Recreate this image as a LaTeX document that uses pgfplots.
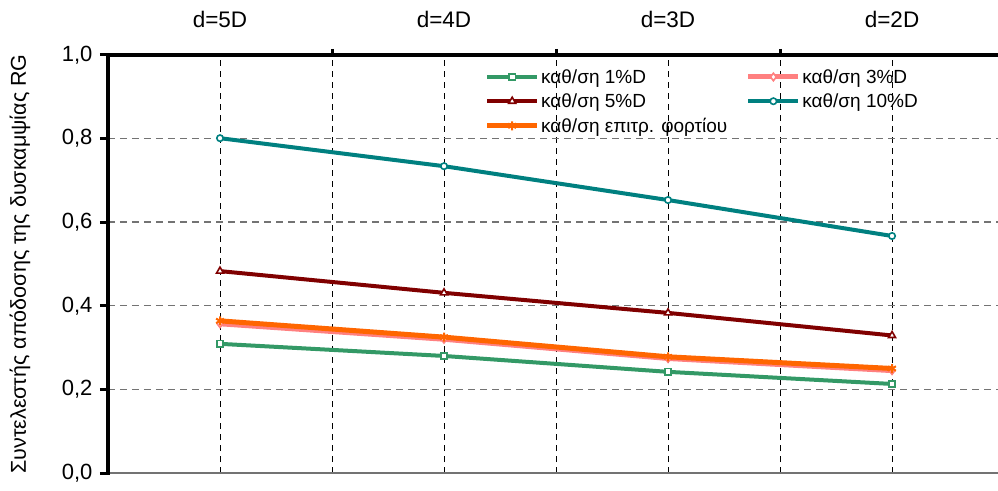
\documentclass[border=0pt]{standalone}
\usepackage{fontspec}
\setmainfont{Liberation Sans}
\usepackage{pgfplots}
\pgfplotsset{compat=1.18}
\definecolor{cgreen}{HTML}{339966}
\definecolor{cpink}{HTML}{FF8080}
\definecolor{cdred}{HTML}{800000}
\definecolor{cteal}{HTML}{008080}
\definecolor{corange}{HTML}{FF6600}
\begin{document}
\begin{tikzpicture}
\begin{axis}[
  at={(0pt,0pt)}, anchor=south west,
  width=890pt, height=418pt, scale only axis,
  xmin=-0.5, xmax=3.473, ymin=0, ymax=1,
  axis line style={draw=none},
  clip=false,
  xtick={0,1,2,3},
  xticklabels={d=5D,d=4D,d=3D,d=2D},
  minor xtick={0.5,1.5,2.5},
  xtick pos=right, xticklabel pos=right,
  ytick={0,0.2,0.4,0.6,0.8,1.0},
  ytick pos=left,
  tick align=outside,
  major tick length=8pt, minor tick length=6pt,
  major x tick style={draw=none},
  minor x tick style={line width=3pt, black},
  y tick style={line width=3pt, black},
  xmajorgrids, xminorgrids, ymajorgrids,
  x grid style={black, line width=1pt, dash pattern=on 6pt off 5pt},
  y grid style={black!55, line width=1.4pt, dash pattern=on 7pt off 5pt},
  /pgf/number format/assume math mode=true,
  /pgf/number format/use comma,
  yticklabel style={xshift=-4pt, /pgf/number format/.cd, fixed, fixed zerofill, precision=1},
  tick label style={font=\fontsize{22}{26}\selectfont},
  xticklabel style={font=\fontsize{22.5}{26}\selectfont, yshift=16pt},
  ylabel={Συντελεστής απόδοσης της δυσκαμψίας RG},
  every axis y label/.style={at={(axis description cs:-0.099,0.5)}, rotate=90, anchor=center, font=\fontsize{21.5}{25}\selectfont},
  legend columns=2,
  legend style={at={(axis description cs:0.423,0.971)}, anchor=north west, draw=none, fill=none,
    font=\fontsize{19}{22}\selectfont, row sep=5pt, inner sep=0pt,
    nodes={inner xsep=1.5pt},
    /tikz/every even column/.append style={column sep=17pt}},
  legend cell align=left,
  legend image code/.code={\draw[mark repeat=2, mark phase=2, #1] plot coordinates {(0pt,0pt) (25pt,0pt) (50pt,0pt)};},
]
\addplot[cgreen, line width=4pt, mark=square*, mark size=3.2pt, mark options={fill=white, draw=cgreen, line width=1.6pt}]
  coordinates {(0,0.309) (1,0.280) (2,0.242) (3,0.213)};
\addlegendentry{καθ/ση 1\%D}
\addplot[cpink, line width=5pt, mark=diamond*, mark size=3.8pt, mark options={fill=white, draw=cpink, line width=1.6pt}]
  coordinates {(0,0.357) (1,0.320) (2,0.274) (3,0.245)};
\addlegendentry{καθ/ση 3\%D}
\addplot[cdred, line width=4pt, mark=triangle*, mark size=4pt, mark options={fill=white, draw=cdred, line width=1.6pt}]
  coordinates {(0,0.483) (1,0.431) (2,0.383) (3,0.329)};
\addlegendentry{καθ/ση 5\%D}
\addplot[cteal, line width=4pt, mark=*, mark size=3.2pt, mark options={fill=white, draw=cteal, line width=1.6pt}]
  coordinates {(0,0.801) (1,0.734) (2,0.653) (3,0.567)};
\addlegendentry{καθ/ση 10\%D}
\addplot[corange, line width=5pt, mark=asterisk, mark size=4.5pt, mark options={line width=2pt}]
  coordinates {(0,0.364) (1,0.325) (2,0.278) (3,0.250)};
\addlegendentry{καθ/ση επιτρ. φορτίου}
\draw[black!55, line width=2pt] (rel axis cs:0,0) -- (rel axis cs:1,0);
\draw[black, line width=4pt] (rel axis cs:0,1) -- (rel axis cs:1,1);
\draw[black, line width=4pt] (rel axis cs:0,-0.004) -- (rel axis cs:0,1.004);
\end{axis}
\pgfresetboundingbox
\path (-108pt,-17pt) rectangle (890pt,473pt);
\end{tikzpicture}
\end{document}
